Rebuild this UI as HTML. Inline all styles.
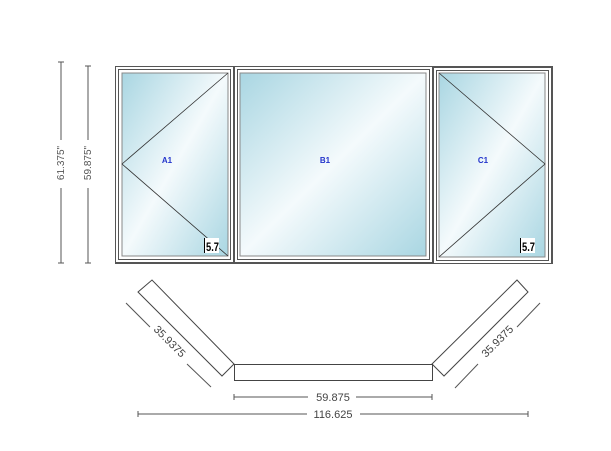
<!DOCTYPE html>
<html><head><style>html,body{margin:0;padding:0;background:#fff}svg{display:block}</style></head>
<body>
<svg width="611" height="451" viewBox="0 0 611 451" xmlns="http://www.w3.org/2000/svg" font-family="Liberation Sans, sans-serif">
<defs>
<linearGradient id="g" x1="0" y1="0" x2="1" y2="1">
<stop offset="0" stop-color="#a9d6e2"/><stop offset="0.5" stop-color="#f4fafc"/><stop offset="1" stop-color="#a9d6e2"/>
</linearGradient>
</defs>
<g stroke="#555" stroke-width="1">
<line x1="61" y1="62" x2="61" y2="140"/><line x1="61" y1="188" x2="61" y2="263"/>
<line x1="58" y1="62" x2="64" y2="62"/><line x1="58" y1="263" x2="64" y2="263"/>
<line x1="88" y1="66" x2="88" y2="140"/><line x1="88" y1="188" x2="88" y2="263"/>
<line x1="85" y1="66" x2="91" y2="66"/><line x1="85" y1="263" x2="91" y2="263"/>
</g>
<text transform="translate(64,163) rotate(-90)" font-size="10" fill="#555" text-anchor="middle">61.375"</text>
<text transform="translate(91,163) rotate(-90)" font-size="10" fill="#555" text-anchor="middle">59.875"</text>
<g fill="none" stroke="#555" stroke-width="1">
<rect x="115.5" y="66.5" width="437" height="197"/>
<rect x="115.5" y="66.5" width="118" height="196"/>
<rect x="118.5" y="69.5" width="112" height="190"/>
<rect x="234.5" y="66.5" width="198" height="196"/>
<rect x="237.5" y="69.5" width="192" height="190"/>
<rect x="433.5" y="67.5" width="118" height="196"/>
<rect x="436.5" y="70.5" width="112" height="190"/>
</g>
<rect x="122" y="73" width="106" height="183" fill="url(#g)" stroke="#888"/>
<rect x="240" y="73" width="186" height="183" fill="url(#g)" stroke="#888"/>
<rect x="439" y="73" width="106" height="184" fill="url(#g)" stroke="#888"/>
<g stroke="#333" stroke-width="0.8" fill="none">
<polyline points="228,73 122,164 228,256"/>
<polyline points="439,73 545,164 439,257"/>
</g>
<g font-size="8" font-weight="bold" fill="#2233cc" text-anchor="middle">
<text x="167" y="163">A1</text><text x="325" y="163">B1</text><text x="483" y="163">C1</text>
</g>
<rect x="204" y="238" width="15" height="15" fill="#fff"/>
<line x1="204.5" y1="238" x2="204.5" y2="253" stroke="#000"/>
<text x="206" y="251" font-size="12" font-weight="bold" textLength="13" lengthAdjust="spacingAndGlyphs">5.7</text>
<rect x="520" y="238" width="15" height="15" fill="#fff"/>
<line x1="520.5" y1="238" x2="520.5" y2="253" stroke="#000"/>
<text x="522" y="251" font-size="12" font-weight="bold" textLength="13" lengthAdjust="spacingAndGlyphs">5.7</text>
<g fill="none" stroke="#444" stroke-width="1">
<polygon points="138,292 152,280 234,364 222,376"/>
<rect x="234.5" y="364.5" width="198" height="16"/>
<polygon points="432,364 517,280 528,292 444,376"/>
</g>
<g stroke="#555" stroke-width="1">
<line x1="126" y1="303" x2="150" y2="327"/><line x1="187" y1="364" x2="211" y2="387"/>
<line x1="540" y1="303" x2="517" y2="327"/><line x1="478" y1="364" x2="455" y2="388"/>
<line x1="234" y1="397" x2="308" y2="397"/><line x1="356" y1="397" x2="432" y2="397"/>
<line x1="234" y1="394" x2="234" y2="400"/><line x1="432" y1="394" x2="432" y2="400"/>
<line x1="138" y1="414" x2="307" y2="414"/><line x1="360" y1="414" x2="528" y2="414"/>
<line x1="138" y1="411" x2="138" y2="417"/><line x1="528" y1="411" x2="528" y2="417"/>
</g>
<g font-size="11" fill="#444" text-anchor="middle">
<text transform="translate(167,344) rotate(45)">35.9375</text>
<text transform="translate(500,344) rotate(-45)">35.9375</text>
<text x="333" y="401">59.875</text>
<text x="333" y="418">116.625</text>
</g>
</svg>
</body></html>
